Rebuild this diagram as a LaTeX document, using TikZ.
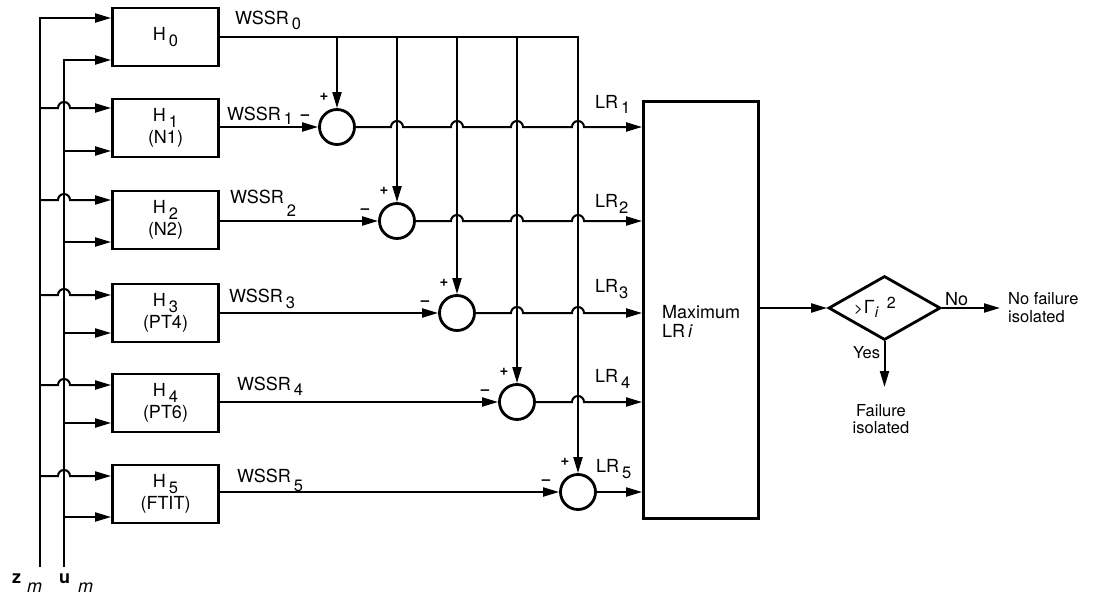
\documentclass[tikz,border=0pt]{standalone}
\usepackage{fontspec}
\setmainfont{TeX Gyre Heros}
\usetikzlibrary{arrows.meta,shapes.geometric,calc}
% lowered index digit: optional drop, then the digit
\newcommand{\lowdig}[2][5.5pt]{\hspace{3pt}\raisebox{-#1}{\fontsize{16.5}{16.5}\selectfont #2}}
\begin{document}
\begin{tikzpicture}[x=1pt,y=-1pt,
  font=\fontsize{18}{18}\selectfont,
  wire/.style={line width=2pt},
  arr/.style={line width=2pt,-{Triangle[length=16pt,width=9pt]}},
  fbox/.style={draw,line width=2.8pt,minimum width=106pt,minimum height=58pt,inner sep=0pt,align=center},
  sumnode/.style={draw,circle,line width=2.8pt,minimum size=35pt,inner sep=0pt},
  txt/.style={inner sep=0pt,anchor=base west},
  small/.style={font=\fontsize{16.5}{17.5}\selectfont},
  sgn/.style={inner sep=0pt,font=\fontsize{15}{15}\selectfont\bfseries}]
\useasboundingbox (0,0) rectangle (1096,605);

% filter bank
\node[fbox] (H0) at (165.5,37)  {H\lowdig[6pt]{0}};
\node[fbox] (H1) at (165.5,128) {H\lowdig[6pt]{1}\\[2pt](N1)};
\node[fbox] (H2) at (165.5,220) {H\lowdig[6pt]{2}\\[2pt](N2)};
\node[fbox] (H3) at (165.5,313) {H\lowdig[6pt]{3}\\[2pt](PT4)};
\node[fbox] (H4) at (165.5,403) {H\lowdig[6pt]{4}\\[2pt](PT6)};
\node[fbox] (H5) at (165.5,494) {H\lowdig[6pt]{5}\\[2pt](FTIT)};

% summing junctions
\node[sumnode] (c1) at (337,127) {};
\node[sumnode] (c2) at (397,221) {};
\node[sumnode] (c3) at (457,313) {};
\node[sumnode] (c4) at (517,402) {};
\node[sumnode] (c5) at (578,492) {};

% selector and threshold test
\node[draw,line width=2.8pt,minimum width=115pt,minimum height=417pt,inner sep=0pt] (mx) at (701,310) {};
\node[draw,diamond,line width=2.8pt,minimum width=112pt,minimum height=64pt,inner sep=0pt] (dec) at (884.5,308) {};

% measurement buses
\coordinate (zb) at (40,567);
\coordinate (ub) at (64,567);
\coordinate (z0) at (40,18);
\coordinate (z1) at (40,108);
\coordinate (z2) at (40,200);
\coordinate (z3) at (40,295);
\coordinate (z4) at (40,385);
\coordinate (z5) at (40,476);
\coordinate (u0) at (64,60);
\coordinate (u1) at (64,151);
\coordinate (u2) at (64,242);
\coordinate (u3) at (64,333);
\coordinate (u4) at (64,423);
\coordinate (u5) at (64,517);

\draw[arr] (zb) -- (z0) -- (z0 -| H0.west);
\draw[arr] (ub) -- (u0) -- (u0 -| H0.west);
\foreach \k in {1,...,5} {
  \draw[arr] (z\k) -- ($(z\k)+(18,0)$) arc[start angle=180,end angle=0,radius=6pt] -- (z\k -| H\k.west);
  \draw[arr] (u\k) -- (u\k -| H\k.west);
}

% residual of the no-failure filter fed to every junction
\draw[arr] (H0.east) -- (H0.east -| c5) -- (c5.north);
\foreach \k in {1,...,4} \draw[arr] (H0.east -| c\k) -- (c\k.north);
\foreach \k in {1,...,5} \draw[arr] (H\k.east |- c\k) -- (c\k.west);

% likelihood ratios into the selector, hopping over the feeds
\draw[arr] (c1.east) \foreach \j in {2,...,5}{ -- ($(c1 -| c\j)+(-6,0)$) arc[start angle=180,end angle=0,radius=6pt] } -- (c1 -| mx.west);
\draw[arr] (c2.east) \foreach \j in {3,4,5}{ -- ($(c2 -| c\j)+(-6,0)$) arc[start angle=180,end angle=0,radius=6pt] } -- (c2 -| mx.west);
\draw[arr] (c3.east) \foreach \j in {4,5}{ -- ($(c3 -| c\j)+(-6,0)$) arc[start angle=180,end angle=0,radius=6pt] } -- (c3 -| mx.west);
\draw[arr] (c4.east) -- ($(c4 -| c5)+(-6,0)$) arc[start angle=180,end angle=0,radius=6pt] -- (c4 -| mx.west);
\draw[arr] (c5.east) -- (c5 -| mx.west);

% decision outputs
\node[small,anchor=west,align=left,inner xsep=8pt,inner ysep=0pt] (nof) at (1000,307.5) {No failure\\isolated};
\node[small,anchor=north,align=center,inner xsep=0pt,inner ysep=17pt] (fail) at (881,387) {Failure\\isolated};
\draw[arr] (mx.east |- dec.west) -- (dec.west);
\draw[arr] (dec.east) -- (dec.east -| nof.west);
\draw[arr] (dec.south) -- (dec.south |- fail.north);

% signal labels
\node[txt] (w0) at (235,24)  {WSSR\lowdig[5pt]{0}};
\node[txt] (w1) at (227,120) {WSSR\lowdig[4pt]{1}};
\node[txt] (w2) at (230,203) {WSSR\lowdig[13pt]{2}};
\node[txt] (w3) at (229,302) {WSSR\lowdig[6pt]{3}};
\node[txt] (w4) at (237,390) {WSSR\lowdig[5pt]{4}};
\node[txt] (w5) at (237,482) {WSSR\lowdig[9pt]{5}};

\node[txt] (l1) at (595,108) {LR\lowdig[5pt]{1}};
\node[txt] (l2) at (595,207) {LR\hspace{-2pt}\lowdig[6pt]{2}};
\node[txt] (l3) at (595,292) {LR\hspace{-2pt}\lowdig[6pt]{3}};
\node[txt] (l4) at (595,382) {LR\lowdig[6pt]{4}};
\node[txt] (l5) at (596,472) {LR\lowdig[6pt]{5}};

\node[txt] (mxa) at (662,318) {Maximum};
\node[txt] (mxb) at (662,337) {LR\,\textit{i}};

\node[txt] (dect) at (854,313) {{\fontsize{15}{15}\selectfont >}\hspace{1pt}Γ\raisebox{-4pt}{\fontsize{15}{15}\selectfont\textit{i}}\hspace{8pt}\raisebox{5pt}{\fontsize{16}{16}\selectfont 2}};
\node[txt] (no) at (945,305) {No};
\node[txt,small] (yes) at (853,358) {Yes};

\node[txt] (zm) at (12,583) {\textbf{z}\hspace{6pt}\raisebox{-9pt}{\textit{m}}};
\node[txt] (um) at (59,583) {\textbf{u}\hspace{8pt}\raisebox{-9pt}{\textit{m}}};

% junction signs
\foreach \k in {1,...,5} {
  \node[sgn] (p\k) at ($(c\k)+(-13,-30)$) {+};
  \node[sgn] (n\k) at ($(c\k)+(-32,-10)$) {–};
}
\end{tikzpicture}
\end{document}
